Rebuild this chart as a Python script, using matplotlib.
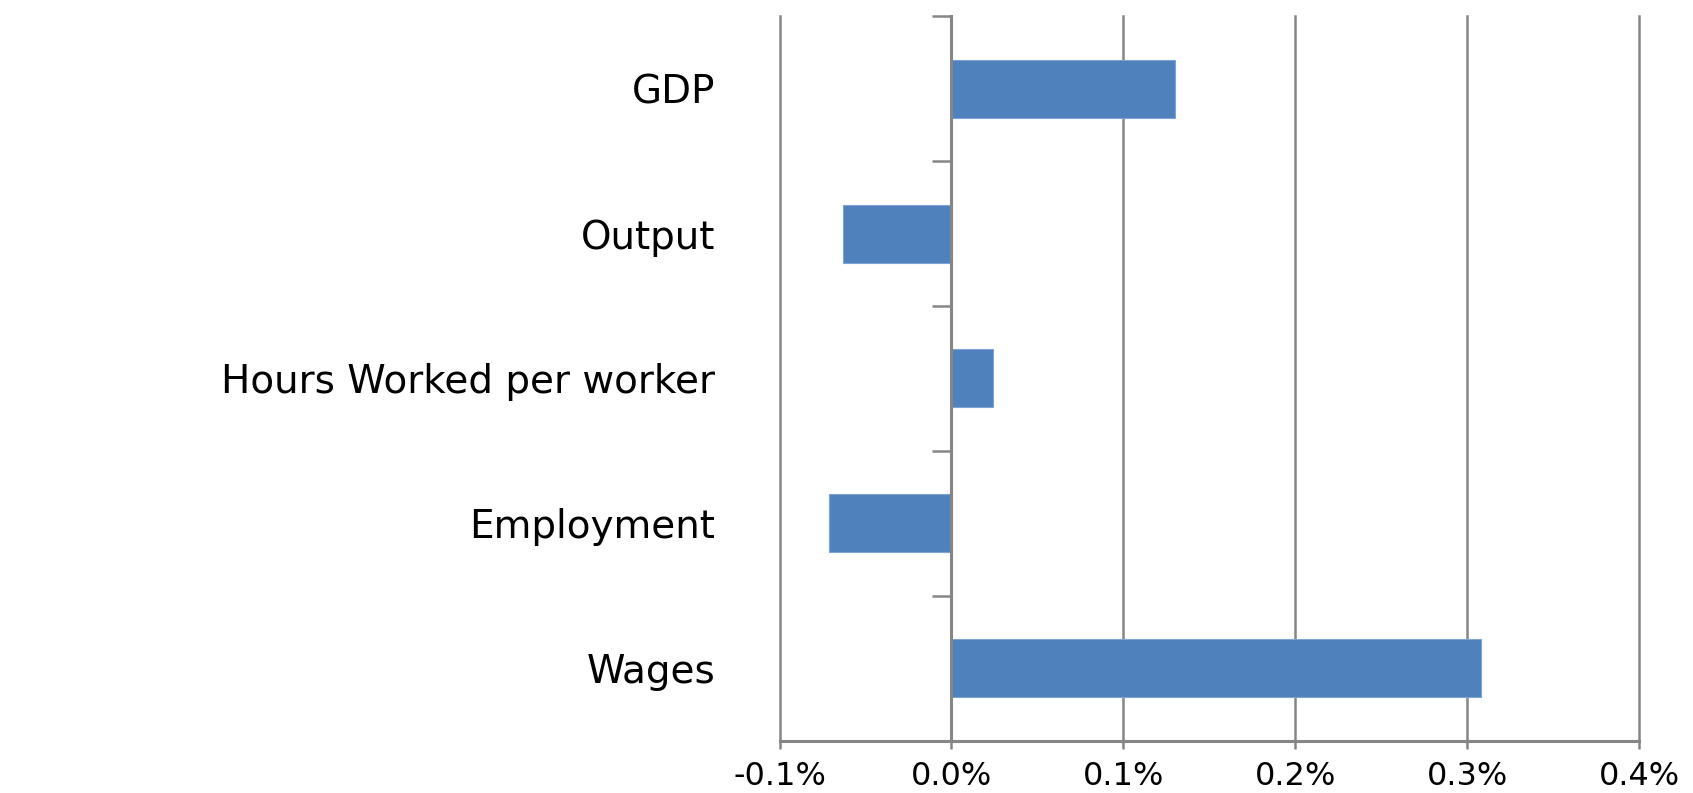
import numpy as np
import matplotlib
matplotlib.use('Agg')
import matplotlib.pyplot as plt
from matplotlib.ticker import FuncFormatter

# Datos (en %)
categorias = ['GDP', 'Output', 'Hours Worked per worker', 'Employment', 'Wages']
valores = [0.130, -0.063, 0.024, -0.071, 0.308]
ticks_x = [-0.1, 0.0, 0.1, 0.2, 0.3, 0.4]

gris = '#868686'
azul = '#4F81BD'

plt.rcParams['font.family'] = ['DejaVu Sans']

fig = plt.figure(figsize=(16.93, 7.93), dpi=100)
ax = fig.add_axes([0.4605, 0.066, 0.5076, 0.9136])

y = np.arange(len(categorias))
ax.barh(y, valores, height=0.4, color=azul, edgecolor='#7FA3D2', linewidth=0.8, zorder=3)

ax.set_ylim(len(categorias) - 0.5, -0.5)
ax.set_xlim(ticks_x[0], ticks_x[-1])

# eje X
ax.set_xticks(ticks_x)
ax.xaxis.set_major_formatter(FuncFormatter(lambda v, p: f'{v:.1f}%'))
ax.tick_params(axis='x', length=6, width=1.8, color=gris, pad=9, labelsize=23)
ax.grid(axis='x', color=gris, linewidth=1.8, zorder=1)
for linea in ax.get_xgridlines():
    linea.set_clip_on(False)

# eje de categorias en 0
for s in ['top', 'right']:
    ax.spines[s].set_visible(False)
ax.spines['left'].set_position(('data', 0))
ax.spines['left'].set_color(gris)
ax.spines['left'].set_linewidth(2.2)
ax.spines['left'].set_zorder(4)
ax.spines['bottom'].set_color(gris)
ax.spines['bottom'].set_linewidth(2.2)

ax.set_yticks(y)
ax.set_yticklabels(categorias)
ax.set_yticks(np.arange(len(categorias) + 1) - 0.5, minor=True)
ax.tick_params(axis='y', which='major', length=0, pad=170, labelsize=28)
ax.tick_params(axis='y', which='minor', length=14, width=1.8, color=gris)

fig.savefig('out.png', dpi=100, facecolor='white')
